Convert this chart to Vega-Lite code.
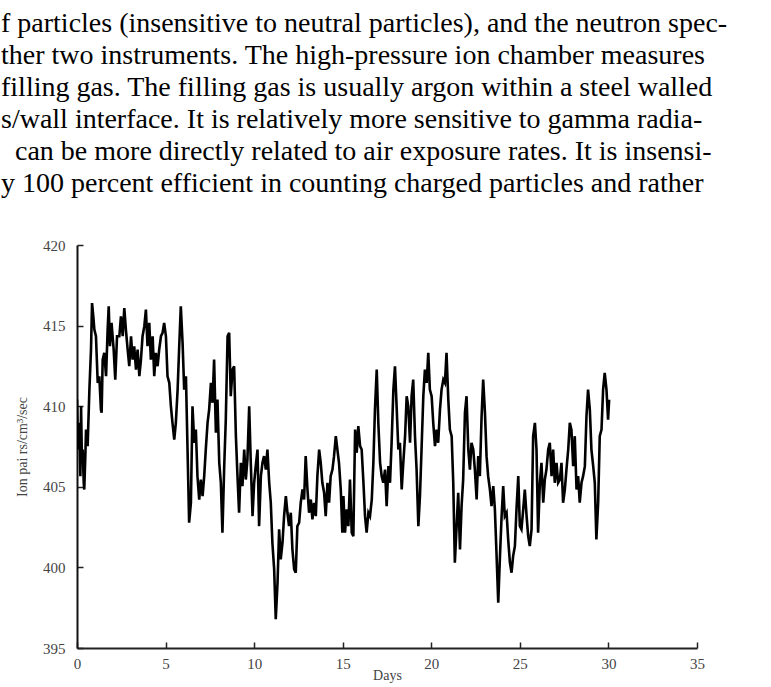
{
  "$schema": "https://vega.github.io/schema/vega-lite/v6.json",
  "width": 620,
  "height": 403,
  "autosize": {"type": "none"},
  "padding": {"left": 77, "top": 245, "right": 74, "bottom": 39},
  "background": "white",
  "config": {"view": {"stroke": null}, "axis": {"labelFont": "Liberation Serif", "titleFont": "Liberation Serif"}},
  "title": {
    "text": [
      "f particles (insensitive to neutral particles), and the neutron spec-",
      "ther two instruments.  The high-pressure ion chamber measures",
      "filling gas.  The filling gas is usually argon within a steel walled",
      "s/wall interface.  It is relatively more sensitive to gamma radia-",
      "\u200b\u2002can be more directly related to air exposure rates.  It is insensi-",
      "y 100 percent efficient in counting charged particles and rather"
    ],
    "anchor": "start",
    "frame": "group",
    "orient": "top",
    "baseline": "top",
    "font": "Liberation Serif",
    "fontSize": 28,
    "fontWeight": "normal",
    "color": "#000000",
    "lineHeight": 32,
    "offset": 40,
    "dx": -76
  },
  "data": {
    "values": [
      {"day": 0.00, "ion": 410.41}, {"day": 0.06, "ion": 407.31}, {"day": 0.13, "ion": 408.97}, {"day": 0.19, "ion": 405.66},
      {"day": 0.23, "ion": 410.00}, {"day": 0.28, "ion": 406.49}, {"day": 0.32, "ion": 407.31}, {"day": 0.38, "ion": 405.25},
      {"day": 0.41, "ion": 404.83}, {"day": 0.47, "ion": 406.90}, {"day": 0.51, "ion": 408.55}, {"day": 0.60, "ion": 407.52},
      {"day": 0.70, "ion": 411.03}, {"day": 0.79, "ion": 413.51}, {"day": 0.85, "ion": 416.40}, {"day": 0.92, "ion": 415.58},
      {"day": 0.98, "ion": 414.75}, {"day": 1.07, "ion": 414.34}, {"day": 1.17, "ion": 411.45}, {"day": 1.26, "ion": 411.86},
      {"day": 1.35, "ion": 409.79}, {"day": 1.39, "ion": 409.59}, {"day": 1.45, "ion": 412.89}, {"day": 1.54, "ion": 413.31},
      {"day": 1.64, "ion": 411.86}, {"day": 1.73, "ion": 414.75}, {"day": 1.79, "ion": 416.20}, {"day": 1.86, "ion": 413.72},
      {"day": 1.95, "ion": 415.17}, {"day": 2.07, "ion": 413.51}, {"day": 2.16, "ion": 411.65}, {"day": 2.26, "ion": 414.34},
      {"day": 2.39, "ion": 414.34}, {"day": 2.48, "ion": 415.58}, {"day": 2.58, "ion": 414.34}, {"day": 2.67, "ion": 416.09},
      {"day": 2.76, "ion": 414.75}, {"day": 2.86, "ion": 413.51}, {"day": 2.95, "ion": 412.48}, {"day": 3.05, "ion": 414.34},
      {"day": 3.14, "ion": 412.89}, {"day": 3.23, "ion": 413.72}, {"day": 3.33, "ion": 412.27}, {"day": 3.42, "ion": 413.51},
      {"day": 3.52, "ion": 411.86}, {"day": 3.61, "ion": 412.89}, {"day": 3.70, "ion": 414.34}, {"day": 3.80, "ion": 414.96},
      {"day": 3.89, "ion": 415.99}, {"day": 3.98, "ion": 413.72}, {"day": 4.08, "ion": 415.17}, {"day": 4.17, "ion": 412.89},
      {"day": 4.27, "ion": 414.34}, {"day": 4.36, "ion": 411.86}, {"day": 4.45, "ion": 413.31}, {"day": 4.55, "ion": 412.48},
      {"day": 4.64, "ion": 413.51}, {"day": 4.74, "ion": 414.34}, {"day": 4.83, "ion": 414.55}, {"day": 4.92, "ion": 415.17},
      {"day": 5.02, "ion": 414.34}, {"day": 5.11, "ion": 411.86}, {"day": 5.21, "ion": 411.45}, {"day": 5.30, "ion": 410.00},
      {"day": 5.39, "ion": 408.97}, {"day": 5.49, "ion": 407.93}, {"day": 5.58, "ion": 408.97}, {"day": 5.68, "ion": 411.03},
      {"day": 5.77, "ion": 413.72}, {"day": 5.86, "ion": 416.20}, {"day": 5.96, "ion": 413.93}, {"day": 6.05, "ion": 411.03},
      {"day": 6.15, "ion": 411.86}, {"day": 6.24, "ion": 407.31}, {"day": 6.33, "ion": 402.77}, {"day": 6.43, "ion": 404.01},
      {"day": 6.52, "ion": 410.00}, {"day": 6.62, "ion": 407.73}, {"day": 6.71, "ion": 408.55}, {"day": 6.80, "ion": 405.66},
      {"day": 6.90, "ion": 404.21}, {"day": 6.99, "ion": 405.45}, {"day": 7.09, "ion": 404.42}, {"day": 7.18, "ion": 405.66},
      {"day": 7.27, "ion": 407.31}, {"day": 7.37, "ion": 408.97}, {"day": 7.46, "ion": 409.79}, {"day": 7.56, "ion": 411.45},
      {"day": 7.65, "ion": 410.21}, {"day": 7.74, "ion": 412.89}, {"day": 7.84, "ion": 408.35}, {"day": 7.93, "ion": 410.41},
      {"day": 8.03, "ion": 406.49}, {"day": 8.12, "ion": 405.25}, {"day": 8.21, "ion": 402.15}, {"day": 8.31, "ion": 406.28},
      {"day": 8.40, "ion": 409.17}, {"day": 8.50, "ion": 414.34}, {"day": 8.59, "ion": 414.55}, {"day": 8.68, "ion": 410.62},
      {"day": 8.78, "ion": 412.27}, {"day": 8.87, "ion": 412.48}, {"day": 8.97, "ion": 408.14}, {"day": 9.06, "ion": 405.66},
      {"day": 9.15, "ion": 403.39}, {"day": 9.25, "ion": 406.49}, {"day": 9.34, "ion": 405.04}, {"day": 9.44, "ion": 407.31},
      {"day": 9.53, "ion": 405.45}, {"day": 9.62, "ion": 406.69}, {"day": 9.72, "ion": 410.00}, {"day": 9.81, "ion": 406.49},
      {"day": 9.91, "ion": 403.18}, {"day": 10.00, "ion": 405.25}, {"day": 10.09, "ion": 406.28}, {"day": 10.19, "ion": 407.31},
      {"day": 10.28, "ion": 402.56}, {"day": 10.38, "ion": 405.66}, {"day": 10.47, "ion": 406.49}, {"day": 10.56, "ion": 406.90},
      {"day": 10.66, "ion": 406.07}, {"day": 10.75, "ion": 407.31}, {"day": 10.85, "ion": 405.25}, {"day": 10.94, "ion": 404.01},
      {"day": 11.03, "ion": 401.53}, {"day": 11.13, "ion": 399.88}, {"day": 11.22, "ion": 396.78}, {"day": 11.32, "ion": 399.05},
      {"day": 11.41, "ion": 402.36}, {"day": 11.50, "ion": 400.50}, {"day": 11.60, "ion": 401.53}, {"day": 11.69, "ion": 403.18},
      {"day": 11.79, "ion": 404.42}, {"day": 11.88, "ion": 403.39}, {"day": 11.97, "ion": 402.56}, {"day": 12.07, "ion": 403.39},
      {"day": 12.16, "ion": 401.12}, {"day": 12.26, "ion": 399.88}, {"day": 12.35, "ion": 399.67}, {"day": 12.44, "ion": 402.56},
      {"day": 12.54, "ion": 402.77}, {"day": 12.63, "ion": 404.01}, {"day": 12.73, "ion": 404.83}, {"day": 12.82, "ion": 404.21},
      {"day": 12.91, "ion": 406.90}, {"day": 13.01, "ion": 404.83}, {"day": 13.10, "ion": 403.39}, {"day": 13.20, "ion": 404.21},
      {"day": 13.29, "ion": 402.98}, {"day": 13.38, "ion": 404.01}, {"day": 13.48, "ion": 403.18}, {"day": 13.57, "ion": 405.66},
      {"day": 13.67, "ion": 407.31}, {"day": 13.76, "ion": 406.49}, {"day": 13.85, "ion": 405.25}, {"day": 13.95, "ion": 404.63},
      {"day": 14.04, "ion": 403.18}, {"day": 14.14, "ion": 405.25}, {"day": 14.23, "ion": 404.01}, {"day": 14.32, "ion": 405.66},
      {"day": 14.42, "ion": 406.07}, {"day": 14.51, "ion": 406.90}, {"day": 14.61, "ion": 408.14}, {"day": 14.70, "ion": 407.31},
      {"day": 14.79, "ion": 406.49}, {"day": 14.89, "ion": 404.83}, {"day": 14.98, "ion": 402.15}, {"day": 15.04, "ion": 404.42},
      {"day": 15.13, "ion": 402.15}, {"day": 15.23, "ion": 403.60}, {"day": 15.32, "ion": 402.56}, {"day": 15.41, "ion": 405.45},
      {"day": 15.51, "ion": 402.15}, {"day": 15.60, "ion": 401.94}, {"day": 15.70, "ion": 408.55}, {"day": 15.79, "ion": 407.11},
      {"day": 15.88, "ion": 408.76}, {"day": 15.98, "ion": 407.52}, {"day": 16.07, "ion": 407.31}, {"day": 16.17, "ion": 405.25},
      {"day": 16.26, "ion": 403.18}, {"day": 16.35, "ion": 402.15}, {"day": 16.45, "ion": 403.39}, {"day": 16.54, "ion": 403.18},
      {"day": 16.64, "ion": 404.21}, {"day": 16.73, "ion": 406.49}, {"day": 16.82, "ion": 409.79}, {"day": 16.92, "ion": 412.27},
      {"day": 17.01, "ion": 408.97}, {"day": 17.11, "ion": 406.49}, {"day": 17.20, "ion": 405.66}, {"day": 17.29, "ion": 405.25},
      {"day": 17.39, "ion": 406.07}, {"day": 17.48, "ion": 403.80}, {"day": 17.58, "ion": 406.28}, {"day": 17.67, "ion": 405.25},
      {"day": 17.76, "ion": 407.73}, {"day": 17.86, "ion": 411.03}, {"day": 17.95, "ion": 412.48}, {"day": 18.05, "ion": 409.79},
      {"day": 18.14, "ion": 407.31}, {"day": 18.23, "ion": 407.73}, {"day": 18.33, "ion": 404.83}, {"day": 18.42, "ion": 406.49},
      {"day": 18.52, "ion": 408.14}, {"day": 18.61, "ion": 410.62}, {"day": 18.70, "ion": 410.00}, {"day": 18.80, "ion": 407.73},
      {"day": 18.89, "ion": 410.62}, {"day": 18.98, "ion": 411.65}, {"day": 19.08, "ion": 408.14}, {"day": 19.17, "ion": 406.07},
      {"day": 19.27, "ion": 402.56}, {"day": 19.36, "ion": 404.42}, {"day": 19.45, "ion": 407.31}, {"day": 19.55, "ion": 410.62},
      {"day": 19.64, "ion": 412.27}, {"day": 19.74, "ion": 411.45}, {"day": 19.83, "ion": 413.31}, {"day": 19.92, "ion": 411.03},
      {"day": 20.02, "ion": 410.62}, {"day": 20.11, "ion": 408.97}, {"day": 20.21, "ion": 407.52}, {"day": 20.30, "ion": 408.55},
      {"day": 20.39, "ion": 407.73}, {"day": 20.49, "ion": 409.79}, {"day": 20.58, "ion": 411.03}, {"day": 20.68, "ion": 411.65},
      {"day": 20.77, "ion": 411.45}, {"day": 20.86, "ion": 413.31}, {"day": 20.96, "ion": 410.41}, {"day": 21.05, "ion": 408.55},
      {"day": 21.15, "ion": 408.14}, {"day": 21.24, "ion": 405.25}, {"day": 21.33, "ion": 400.29}, {"day": 21.43, "ion": 402.56},
      {"day": 21.52, "ion": 404.63}, {"day": 21.62, "ion": 401.12}, {"day": 21.71, "ion": 403.80}, {"day": 21.80, "ion": 405.45},
      {"day": 21.90, "ion": 409.59}, {"day": 21.99, "ion": 410.62}, {"day": 22.09, "ion": 407.31}, {"day": 22.18, "ion": 406.07},
      {"day": 22.27, "ion": 407.73}, {"day": 22.37, "ion": 407.31}, {"day": 22.46, "ion": 406.07}, {"day": 22.56, "ion": 404.21},
      {"day": 22.65, "ion": 406.90}, {"day": 22.74, "ion": 405.66}, {"day": 22.84, "ion": 409.38}, {"day": 22.93, "ion": 411.65},
      {"day": 23.03, "ion": 409.59}, {"day": 23.12, "ion": 406.90}, {"day": 23.21, "ion": 405.66}, {"day": 23.31, "ion": 404.83},
      {"day": 23.40, "ion": 403.80}, {"day": 23.50, "ion": 405.04}, {"day": 23.59, "ion": 403.60}, {"day": 23.68, "ion": 400.91},
      {"day": 23.78, "ion": 397.81}, {"day": 23.87, "ion": 400.50}, {"day": 23.97, "ion": 403.18}, {"day": 24.06, "ion": 405.04},
      {"day": 24.15, "ion": 403.18}, {"day": 24.25, "ion": 403.39}, {"day": 24.34, "ion": 401.74}, {"day": 24.44, "ion": 400.29},
      {"day": 24.53, "ion": 399.67}, {"day": 24.62, "ion": 400.70}, {"day": 24.72, "ion": 401.32}, {"day": 24.81, "ion": 403.60},
      {"day": 24.91, "ion": 405.66}, {"day": 25.00, "ion": 402.56}, {"day": 25.09, "ion": 402.36}, {"day": 25.19, "ion": 403.60},
      {"day": 25.28, "ion": 404.83}, {"day": 25.38, "ion": 403.18}, {"day": 25.47, "ion": 401.94}, {"day": 25.56, "ion": 401.32},
      {"day": 25.66, "ion": 402.36}, {"day": 25.75, "ion": 408.14}, {"day": 25.85, "ion": 408.97}, {"day": 25.94, "ion": 407.31},
      {"day": 26.03, "ion": 402.15}, {"day": 26.13, "ion": 405.25}, {"day": 26.22, "ion": 406.49}, {"day": 26.32, "ion": 404.01},
      {"day": 26.41, "ion": 405.45}, {"day": 26.50, "ion": 406.07}, {"day": 26.60, "ion": 407.31}, {"day": 26.69, "ion": 407.73},
      {"day": 26.79, "ion": 405.66}, {"day": 26.88, "ion": 407.31}, {"day": 26.97, "ion": 405.25}, {"day": 27.07, "ion": 406.49},
      {"day": 27.16, "ion": 405.25}, {"day": 27.26, "ion": 405.45}, {"day": 27.35, "ion": 406.49}, {"day": 27.44, "ion": 404.01},
      {"day": 27.54, "ion": 404.83}, {"day": 27.63, "ion": 406.07}, {"day": 27.73, "ion": 407.31}, {"day": 27.82, "ion": 408.97},
      {"day": 27.91, "ion": 408.55}, {"day": 28.01, "ion": 406.28}, {"day": 28.10, "ion": 408.14}, {"day": 28.20, "ion": 404.83},
      {"day": 28.29, "ion": 405.66}, {"day": 28.38, "ion": 404.01}, {"day": 28.48, "ion": 405.25}, {"day": 28.57, "ion": 405.66},
      {"day": 28.67, "ion": 406.28}, {"day": 28.76, "ion": 409.38}, {"day": 28.85, "ion": 411.03}, {"day": 28.95, "ion": 409.79},
      {"day": 29.04, "ion": 407.31}, {"day": 29.14, "ion": 406.28}, {"day": 29.23, "ion": 405.25}, {"day": 29.32, "ion": 401.74},
      {"day": 29.42, "ion": 404.01}, {"day": 29.51, "ion": 408.14}, {"day": 29.61, "ion": 408.55}, {"day": 29.70, "ion": 411.03},
      {"day": 29.79, "ion": 412.07}, {"day": 29.89, "ion": 411.03}, {"day": 29.98, "ion": 409.17}, {"day": 30.04, "ion": 410.41}
    ]
  },
  "mark": {"type": "line", "color": "#000000", "strokeWidth": 2.6, "strokeJoin": "miter", "clip": true},
  "encoding": {
    "x": {
      "field": "day",
      "type": "quantitative",
      "scale": {"domain": [0, 35], "nice": false, "zero": false},
      "axis": {
        "title": "Days",
        "values": [0, 5, 10, 15, 20, 25, 30, 35],
        "grid": false,
        "labelFlush": false,
        "domainColor": "#222222",
        "domainWidth": 2,
        "tickColor": "#222222",
        "tickWidth": 1.5,
        "tickSize": -6,
        "labelPadding": 14,
        "labelFont": "Liberation Serif",
        "labelFontSize": 15,
        "labelColor": "#444444",
        "titleFont": "Liberation Serif",
        "titleFontSize": 14,
        "titleFontWeight": "normal",
        "titleColor": "#444444",
        "titlePadding": -3
      }
    },
    "y": {
      "field": "ion",
      "type": "quantitative",
      "scale": {"domain": [395, 420], "nice": false, "zero": false},
      "axis": {
        "title": "Ion pai rs/cm³/sec",
        "values": [395, 400, 405, 410, 415, 420],
        "grid": false,
        "labelFlush": false,
        "domainColor": "#111111",
        "domainWidth": 2,
        "tickColor": "#222222",
        "tickWidth": 1.5,
        "tickSize": -6,
        "labelPadding": 18,
        "labelFont": "Liberation Serif",
        "labelFontSize": 15,
        "labelColor": "#444444",
        "titleFont": "Liberation Serif",
        "titleFontSize": 14,
        "titleFontWeight": "normal",
        "titleColor": "#444444",
        "titlePadding": 13
      }
    }
  }
}
